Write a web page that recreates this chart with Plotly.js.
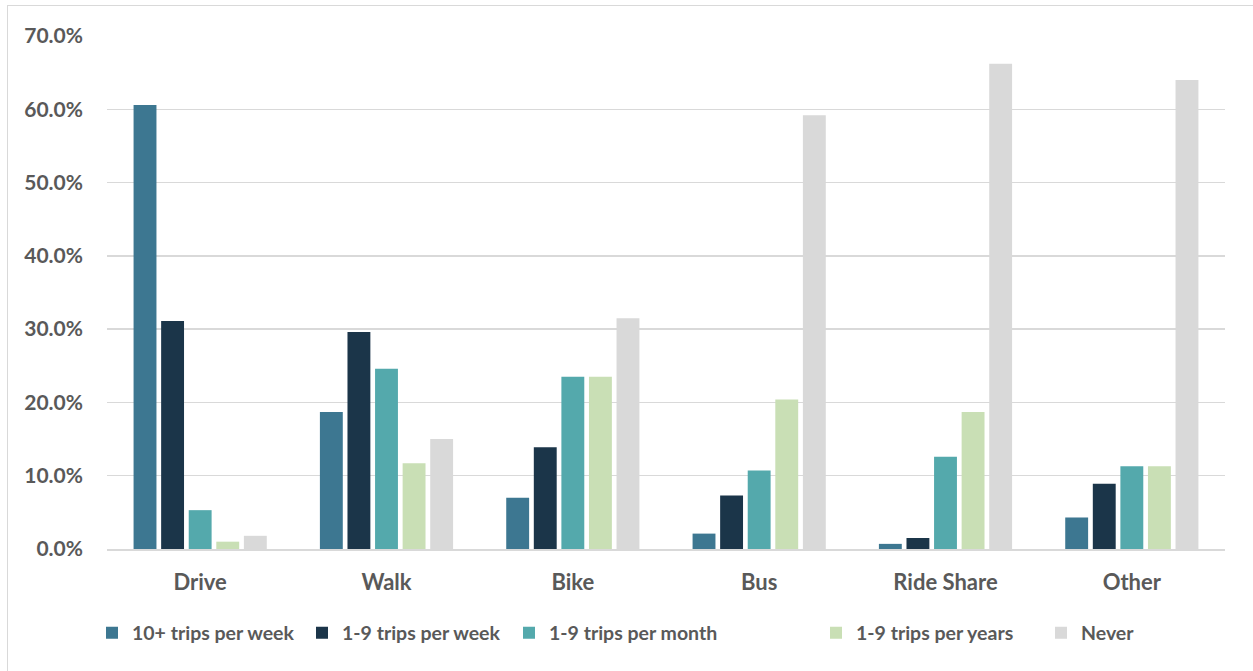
<!DOCTYPE html>
<html>
<head>
<meta charset="utf-8">
<script src="https://cdn.plot.ly/plotly-3.0.1.min.js"></script>
<style>
  html, body { margin: 0; padding: 0; background: #ffffff; }
  #wrap { position: relative; width: 1253px; height: 671px; overflow: hidden; }
  #chart { position: absolute; left: 0; top: 0; width: 1253px; height: 671px; }
  #frame { position: absolute; left: 7px; top: 5px; width: 1300px; height: 720px;
           border: 1.5px solid #d9d9d9; pointer-events: none; }
</style>
</head>
<body>
<div id="wrap">
  <div id="frame"></div>
  <div id="chart"></div>
</div>
<script>
const categories = ["Drive", "Walk", "Bike", "Bus", "Ride Share", "Other"];
const seriesNames = ["10+ trips per week", "1-9 trips per week", "1-9 trips per month", "1-9 trips per years", "Never"];
const tenPlusWeek   = [60.6, 18.7,  7.0,  2.1,  0.7,  4.3];
const oneNineWeek   = [31.1, 29.6, 13.9,  7.3,  1.5,  8.9];
const oneNineMonth  = [ 5.3, 24.6, 23.5, 10.7, 12.6, 11.3];
const oneNineYears  = [ 1.0, 11.7, 23.5, 20.4, 18.7, 11.3];
const never         = [ 1.8, 15.0, 31.5, 59.2, 66.2, 64.0];
const yTicks = [0, 10, 20, 30, 40, 50, 60, 70];

const colors = ["#3d7791", "#1b3549", "#54a9ac", "#c9dfb5", "#d9d9d9"];
const values = [tenPlusWeek, oneNineWeek, oneNineMonth, oneNineYears, never];
// left edge (px, in the 1253-wide page) of each legend entry
const legendLeft = [92, 302, 509, 816, 1041];

const font = "Lato, 'Open Sans', 'Liberation Sans', sans-serif";
const textColor = "#595959";
const W = 1253, H = 671;

const legendIds = ["legend", "legend2", "legend3", "legend4", "legend5"];

const traces = values.map((v, i) => ({
  type: "bar",
  name: seriesNames[i],
  x: categories,
  y: v,
  legend: legendIds[i],
  marker: { color: colors[i], line: { width: 0 } },
  hoverinfo: "x+y+name"
}));

const layout = {
  width: W,
  height: H,
  paper_bgcolor: "rgba(0,0,0,0)",
  plot_bgcolor: "rgba(0,0,0,0)",
  margin: { l: 107, r: 28, t: 36, b: 122 },
  barmode: "group",
  bargap: 0.26,
  bargroupgap: 0.17,
  font: { family: font, color: textColor, size: 19, weight: 700 },
  xaxis: {
    type: "category",
    showgrid: false,
    showline: true,
    linecolor: "#d9d9d9",
    linewidth: 1.5,
    ticks: "",
    ticklabelstandoff: 13,
    tickfont: { family: font, size: 22, color: textColor, weight: 700 }
  },
  yaxis: {
    range: [0, 70],
    tickvals: yTicks,
    ticktext: yTicks.map(t => t.toFixed(1) + "%"),
    showgrid: true,
    gridcolor: "#d9d9d9",
    gridwidth: 1.3,
    zeroline: false,
    showline: false,
    ticks: "",
    ticklabelstandoff: 23,
    tickfont: { family: font, size: 21, color: textColor, weight: 700 }
  },
  showlegend: true
};

legendIds.forEach((id, i) => {
  layout[id] = {
    orientation: "h",
    xref: "container",
    yref: "container",
    x: legendLeft[i] / W,
    xanchor: "left",
    y: 1 - 633 / H,
    yanchor: "middle",
    bgcolor: "rgba(0,0,0,0)",
    font: { family: font, size: 19.5, color: textColor, weight: 700 },
    itemwidth: 30
  };
});

Plotly.newPlot("chart", traces, layout, { displayModeBar: false, staticPlot: true });
</script>
</body>
</html>
